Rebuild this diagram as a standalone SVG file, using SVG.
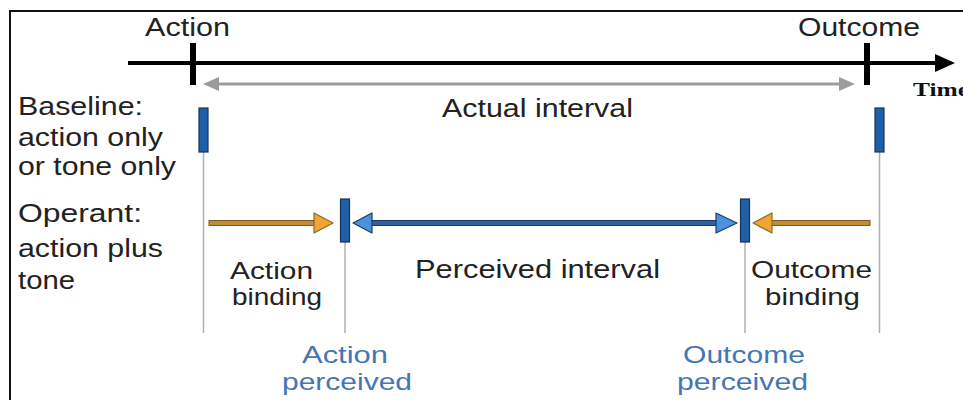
<svg xmlns="http://www.w3.org/2000/svg" width="963" height="400" viewBox="0 0 963 400">
  <style>
    .lbl { font-family: "Liberation Sans", Arial, sans-serif; font-size: 26px; fill: #222; }
    .pair { font-size: 24px; }
    .blu { font-family: "Liberation Sans", Arial, sans-serif; font-size: 24px; fill: #4576b4; }
    .tick { fill: #000; }
    .bar { fill: #1f5fa8; stroke: #17365e; stroke-width: 1.2; }
    .guide { stroke: #b0b0b0; stroke-width: 1.5; fill: none; }
    .oshaft { fill: #c68a38; stroke: #7a5a2a; stroke-width: 1; }
    .ohead { fill: #f2a431; stroke: #8a6a30; stroke-width: 1.2; stroke-linejoin: round; }
    .bshaft { fill: #2f62a2; stroke: #183660; stroke-width: 1; }
    .bhead { fill: #4a92dc; stroke: #1c3d6a; stroke-width: 1.2; stroke-linejoin: round; }
  </style>

  <rect width="963" height="400" fill="#fff"/>
  <!-- outer frame (right and bottom edges fall outside the canvas) -->
  <rect x="10" y="11" width="1000" height="500" fill="none" stroke="#111" stroke-width="2"/>

  <!-- time axis -->
  <g id="time-axis">
    <line x1="128" y1="63" x2="940" y2="63" stroke="#000" stroke-width="4"/>
    <polygon points="935,54 955,63 935,72" fill="#000"/>
    <text x="913" y="96" font-family="'Liberation Serif', 'Times New Roman', serif" font-size="19" font-weight="bold" fill="#111" textLength="56" lengthAdjust="spacingAndGlyphs">Time</text>
  </g>

  <g id="action-event">
    <rect class="tick" x="190" y="43" width="6" height="42"/>
    <text class="lbl" x="145" y="36" textLength="85" lengthAdjust="spacingAndGlyphs">Action</text>
  </g>

  <g id="outcome-event">
    <rect class="tick" x="864" y="43" width="6" height="42"/>
    <text class="lbl" x="798" y="36" textLength="122" lengthAdjust="spacingAndGlyphs">Outcome</text>
  </g>

  <!-- row labels -->
  <g id="baseline-label">
    <text class="lbl" x="18" y="115" textLength="125" lengthAdjust="spacingAndGlyphs">Baseline:</text>
    <text class="lbl" x="18" y="146" textLength="145" lengthAdjust="spacingAndGlyphs">action only</text>
    <text class="lbl" x="18" y="175" textLength="158" lengthAdjust="spacingAndGlyphs">or tone only</text>
  </g>
  <g id="operant-label">
    <text class="lbl" x="18" y="222" textLength="124" lengthAdjust="spacingAndGlyphs">Operant:</text>
    <text class="lbl" x="18" y="257" textLength="145" lengthAdjust="spacingAndGlyphs">action plus</text>
    <text class="lbl" x="18" y="289" textLength="57" lengthAdjust="spacingAndGlyphs">tone</text>
  </g>

  <!-- guide lines -->
  <g id="guides">
    <line class="guide" x1="203.5" y1="152" x2="203.5" y2="333"/>
    <line class="guide" x1="879.5" y1="152" x2="879.5" y2="333"/>
    <line class="guide" x1="345" y1="242" x2="345" y2="333"/>
    <line class="guide" x1="745" y1="242" x2="745" y2="333"/>
  </g>

  <!-- event markers -->
  <g id="baseline-action"><rect class="bar" x="199" y="108" width="9" height="44"/></g>
  <g id="baseline-outcome"><rect class="bar" x="875" y="108" width="9" height="44"/></g>
  <g id="action-perceived">
    <rect class="bar" x="340.5" y="199" width="9" height="43"/>
    <text class="blu" x="302" y="363" textLength="86" lengthAdjust="spacingAndGlyphs">Action</text>
    <text class="blu" x="282" y="390" textLength="130" lengthAdjust="spacingAndGlyphs">perceived</text>
  </g>
  <g id="outcome-perceived">
    <rect class="bar" x="740.5" y="199" width="9" height="43"/>
    <text class="blu" x="683" y="363" textLength="122" lengthAdjust="spacingAndGlyphs">Outcome</text>
    <text class="blu" x="677" y="390" textLength="131" lengthAdjust="spacingAndGlyphs">perceived</text>
  </g>

  <!-- connectors -->
  <g id="connectors">
    <!-- actual interval -->
    <line x1="214" y1="84" x2="844" y2="84" stroke="#9c9c9c" stroke-width="3"/>
    <polygon points="203,84 219,77 219,91" fill="#9c9c9c"/>
    <polygon points="855,84 839,77 839,91" fill="#9c9c9c"/>
    <!-- action binding -->
    <rect class="oshaft" x="209" y="220.5" width="108" height="5"/>
    <polygon class="ohead" points="333,223 314,213 314,233"/>
    <!-- outcome binding -->
    <rect class="oshaft" x="769" y="220.5" width="101" height="5"/>
    <polygon class="ohead" points="753,223 772,213 772,233"/>
    <!-- perceived interval -->
    <rect class="bshaft" x="368" y="220.5" width="351" height="5"/>
    <polygon class="bhead" points="353,223 372,213 372,233"/>
    <polygon class="bhead" points="737,223 716,213 716,233"/>
  </g>

  <!-- interval labels -->
  <g id="actual-interval-label">
    <text class="lbl" x="442" y="117" textLength="191" lengthAdjust="spacingAndGlyphs">Actual interval</text>
  </g>
  <g id="perceived-interval-label">
    <text class="lbl" x="415" y="278" textLength="245" lengthAdjust="spacingAndGlyphs">Perceived interval</text>
  </g>
  <g id="action-binding-label">
    <text class="lbl pair" x="230" y="279" textLength="83" lengthAdjust="spacingAndGlyphs">Action</text>
    <text class="lbl pair" x="232" y="305" textLength="90" lengthAdjust="spacingAndGlyphs">binding</text>
  </g>
  <g id="outcome-binding-label">
    <text class="lbl pair" x="751" y="278" textLength="121" lengthAdjust="spacingAndGlyphs">Outcome</text>
    <text class="lbl pair" x="765" y="305" textLength="95" lengthAdjust="spacingAndGlyphs">binding</text>
  </g>
</svg>
